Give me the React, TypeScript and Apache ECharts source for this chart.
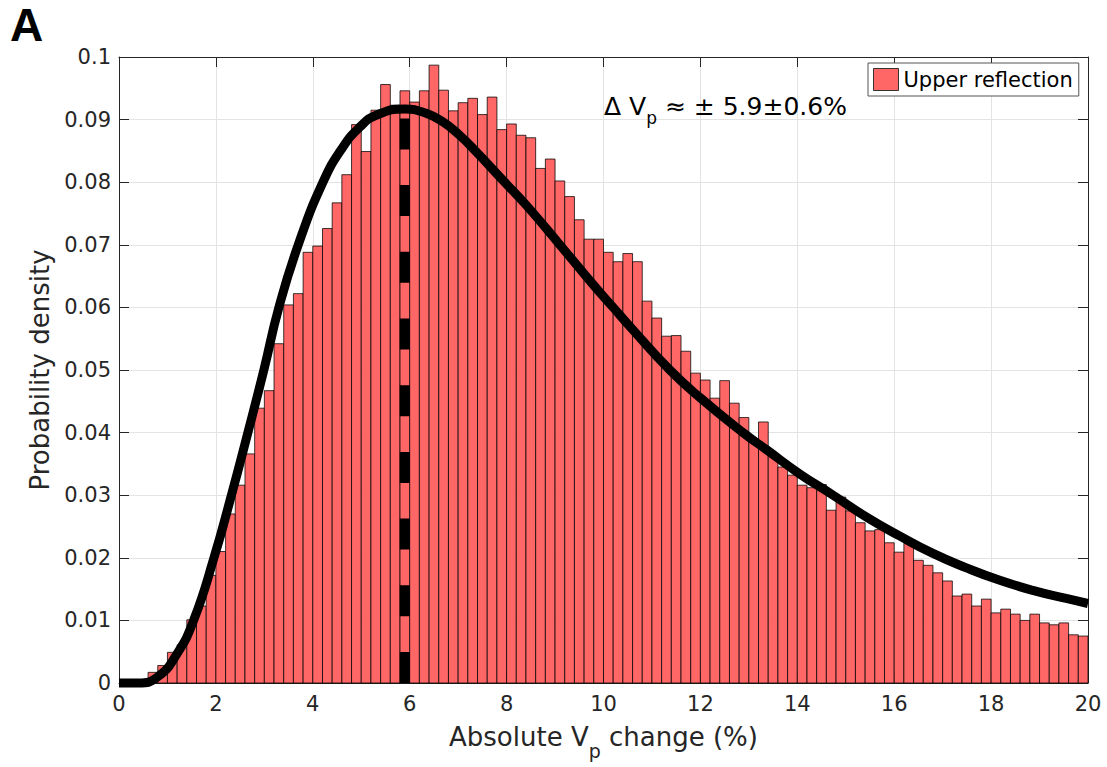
import React, { useEffect, useRef } from 'react';
import * as echarts from 'echarts';

// Histogram: bins of width 0.2 from 0 to 20 (100 bins), probability density per bin
const BIN_WIDTH = 0.2;
const density = [
  0, 0, 0, 0.0017, 0.0028, 0.0049, 0.0061, 0.0101, 0.0123, 0.0172,
  0.0210, 0.0270, 0.0316, 0.0366, 0.0439, 0.0467, 0.0542, 0.0604, 0.0622, 0.0688,
  0.0698, 0.0726, 0.0767, 0.0812, 0.0892, 0.0849, 0.0915, 0.0956, 0.0923, 0.0946,
  0.0928, 0.0946, 0.0987, 0.0947, 0.0914, 0.0927, 0.0934, 0.0908, 0.0936, 0.0884,
  0.0893, 0.0875, 0.0871, 0.0822, 0.0837, 0.0802, 0.0777, 0.0740, 0.0709, 0.0709,
  0.0688, 0.0673, 0.0686, 0.0673, 0.0610, 0.0583, 0.0554, 0.0555, 0.0530, 0.0495,
  0.0484, 0.0455, 0.0483, 0.0447, 0.0424, 0.0390, 0.0417, 0.0365, 0.0345, 0.0332,
  0.0316, 0.0312, 0.0317, 0.0276, 0.0297, 0.0275, 0.0256, 0.0243, 0.0245, 0.0224,
  0.0209, 0.0223, 0.0196, 0.0188, 0.0176, 0.0163, 0.0139, 0.0142, 0.0123, 0.0134,
  0.0112, 0.0118, 0.0110, 0.0100, 0.0110, 0.0096, 0.0093, 0.0096, 0.0077, 0.0075,
];

// Fitted density curve
const fitX = [
  0, 0.4, 0.8, 1.2, 1.54, 1.96, 2.32, 2.66, 2.99, 3.3,
  3.7, 4.21, 4.62, 4.97, 5.31, 5.9, 6.34, 6.69, 7.03, 7.38,
  7.96, 8.41, 9.1, 9.78, 10.2, 10.61, 11.37, 11.99, 12.88, 13.36,
  14.05, 14.74, 15.43, 16.11, 16.8, 17.49, 18.18, 18.86, 19.55, 20,
];
const fitY = [
  0, 0, 0.001, 0.0047, 0.01, 0.02, 0.03, 0.04, 0.05, 0.06,
  0.07, 0.08, 0.0856, 0.0888, 0.0907, 0.0917, 0.091, 0.0896, 0.0875, 0.0848,
  0.08, 0.0763, 0.07, 0.0637, 0.06, 0.0564, 0.05, 0.0456, 0.04, 0.0373,
  0.0334, 0.03, 0.0265, 0.0235, 0.0207, 0.0184, 0.0164, 0.0148, 0.0135, 0.0127,
];

const modeValue = 5.9;
const modeDensity = 0.0917;
const seriesName = 'Upper reflection';
const annotation = '{a|\u0394 V}{s|p}{a| \u2248 \u00b1 5.9\u00b10.6%}';

export default function App() {
  const ref = useRef<HTMLDivElement>(null);

  useEffect(() => {
    document.body.style.margin = '0';
    const chart = echarts.init(ref.current as HTMLDivElement, null, { renderer: 'svg' });
    const font = 'DejaVu Sans';
    const axisColor = '#262626';
    const histData = density.map((v, i) => [i * BIN_WIDTH, (i + 1) * BIN_WIDTH, v]);
    const fitData = fitX.map((x, i) => [x, fitY[i]]);

    const baseX = {
      type: 'value',
      min: 0,
      max: 20,
      interval: 2,
      axisLine: { show: true, onZero: false, lineStyle: { color: axisColor, width: 1 } },
      axisTick: { show: true, inside: true, length: 10, lineStyle: { color: axisColor } },
    };
    const baseY = {
      type: 'value',
      min: 0,
      max: 0.1,
      interval: 0.01,
      axisLine: { show: true, onZero: false, lineStyle: { color: axisColor, width: 1 } },
      axisTick: { show: true, inside: true, length: 10, lineStyle: { color: axisColor } },
    };

    chart.setOption({
      animation: false,
      backgroundColor: '#ffffff',
      grid: { left: 119, top: 57, width: 969, height: 626, containLabel: false },
      xAxis: [
        {
          ...baseX,
          position: 'bottom',
          axisLabel: { margin: 10, fontSize: 21, fontFamily: font, color: axisColor },
          splitLine: { show: true, lineStyle: { color: '#e3e3e3', width: 1 } },
          name: '{a|Absolute V}{s|p}{a| change (%)}',
          nameLocation: 'middle',
          nameGap: 30,
          nameTextStyle: {
            rich: {
              a: { fontSize: 26, fontFamily: font, color: axisColor, verticalAlign: 'middle' },
              s: { fontSize: 19, fontFamily: font, color: axisColor, verticalAlign: 'middle', padding: [28, 0, 0, 0] },
            },
          },
        },
        {
          ...baseX,
          position: 'top',
          axisLabel: { show: false },
          splitLine: { show: false },
        },
      ],
      yAxis: [
        {
          ...baseY,
          position: 'left',
          axisLabel: {
            margin: 8,
            fontSize: 21,
            fontFamily: font,
            color: axisColor,
            formatter: (v: number) => String(+v.toFixed(2)),
          },
          splitLine: { show: true, lineStyle: { color: '#e3e3e3', width: 1 } },
          name: 'Probability density',
          nameLocation: 'middle',
          nameGap: 64,
          nameTextStyle: { fontSize: 26, fontFamily: font, color: axisColor },
        },
        {
          ...baseY,
          position: 'right',
          axisLabel: { show: false },
          splitLine: { show: false },
        },
      ],
      legend: {
        data: [
          {
            name: seriesName,
            icon: 'rect',
            itemStyle: { color: '#ff6666', borderColor: '#333333', borderWidth: 1 },
          },
        ],
        left: 868,
        top: 63,
        itemWidth: 25,
        itemHeight: 22,
        padding: [5, 6, 5, 5],
        borderColor: '#555555',
        borderWidth: 1,
        backgroundColor: '#ffffff',
        selectedMode: false,
        textStyle: { fontFamily: font, fontSize: 21, color: '#000000' },
      },
      series: [
        {
          type: 'custom',
          name: seriesName,
          data: histData,
          encode: { x: [0, 1], y: 2 },
          itemStyle: { color: '#ff6666' },
          renderItem: (params: any, api: any) => {
            const top = api.coord([api.value(0), api.value(2)]);
            const bottom = api.coord([api.value(1), 0]);
            return {
              type: 'rect',
              shape: { x: top[0], y: top[1], width: bottom[0] - top[0], height: bottom[1] - top[1] },
              style: { fill: '#ff6666', stroke: 'rgba(0,0,0,0.75)', lineWidth: 1 },
            };
          },
          z: 2,
        },
        {
          type: 'line',
          name: 'mode',
          data: [[modeValue, 0], [modeValue, modeDensity]],
          showSymbol: false,
          symbol: 'none',
          lineStyle: { color: '#000000', width: 10, type: [31, 35.7], cap: 'butt' },
          clip: false,
          z: 3,
        },
        {
          type: 'line',
          name: 'fit',
          data: fitData,
          smooth: 0.5,
          showSymbol: false,
          symbol: 'none',
          lineStyle: { color: '#000000', width: 9, join: 'round' },
          clip: false,
          z: 4,
        },
      ],
      graphic: [
        {
          type: 'text',
          left: 10,
          top: 2,
          style: { text: 'A', font: 'bold 46px "Liberation Sans"', fill: '#000000' },
        },
        {
          type: 'text',
          left: 604,
          top: 94,
          z: 10,
          style: {
            text: annotation,
            rich: {
              a: { fontSize: 25, fontFamily: font, fill: '#000000', verticalAlign: 'middle' },
              s: { fontSize: 17, fontFamily: font, fill: '#000000', verticalAlign: 'middle', padding: [22, 0, 0, 0] },
            },
          },
        },
      ],
    });

    return () => chart.dispose();
  }, []);

  return <div ref={ref} style={{ width: 1107, height: 767 }} />;
}
